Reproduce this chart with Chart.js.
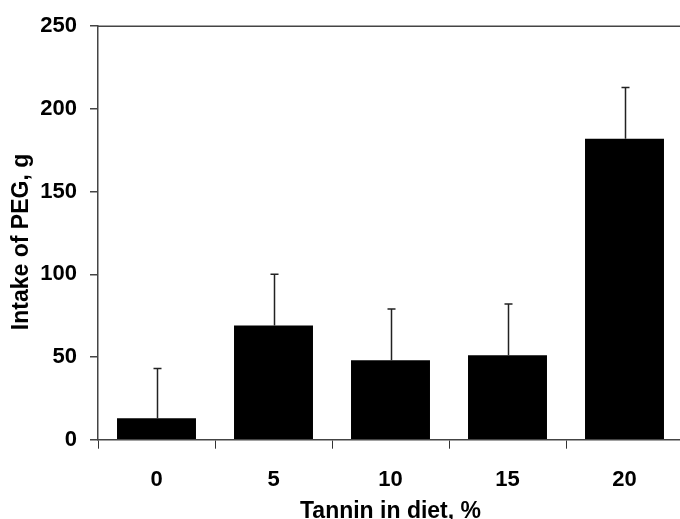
<!DOCTYPE html>
<html>
<head>
<meta charset="utf-8">
<script src="https://cdn.jsdelivr.net/npm/chart.js@4/dist/chart.umd.min.js"></script>
<style>
  html, body { margin: 0; padding: 0; background: #fff; overflow: hidden; }
  #wrap { position: relative; width: 700px; height: 519px; }
</style>
</head>
<body>
<div id="wrap"><canvas id="c"></canvas></div>
<script>
// Tannin level in the diet (%) and PEG intake (g), with one-sided SD
const tanninLevels = ['0', '5', '10', '15', '20'];
const pegIntake = [13, 69, 48, 51, 182];
const pegSD = [30, 31, 31, 31, 31];
const yTicks = [0, 50, 100, 150, 200, 250];

const FONT = '"Liberation Sans", Arial, sans-serif';
const AXIS_COLOR = '#444';

// Upward error bars with a short cap, drawn from the bar top
const errorBars = {
  id: 'errorBars',
  afterDatasetsDraw(chart) {
    const { ctx, scales: { y } } = chart;
    const meta = chart.getDatasetMeta(0);
    ctx.save();
    ctx.strokeStyle = '#222';
    ctx.lineWidth = 1.5;
    meta.data.forEach((bar, i) => {
      const x = Math.round(bar.x) + 0.5;
      const yTop = y.getPixelForValue(pegIntake[i] + pegSD[i]);
      const yBase = y.getPixelForValue(pegIntake[i]);
      ctx.beginPath();
      ctx.moveTo(x, yBase);
      ctx.lineTo(x, yTop);
      ctx.moveTo(x - 4, yTop);
      ctx.lineTo(x + 4, yTop);
      ctx.stroke();
    });
    ctx.restore();
  }
};

// Frame line along the top of the plot, plus both axis titles
const frameAndTitles = {
  id: 'frameAndTitles',
  afterDraw(chart) {
    const { ctx, chartArea: a } = chart;
    ctx.save();
    ctx.strokeStyle = AXIS_COLOR;
    ctx.lineWidth = 1.5;
    ctx.beginPath();
    ctx.moveTo(a.left, a.top);
    ctx.lineTo(a.right, a.top);
    ctx.lineTo(a.right, a.bottom);
    ctx.stroke();

    ctx.fillStyle = '#000';
    ctx.font = 'bold 23px ' + FONT;
    ctx.textAlign = 'center';
    ctx.textBaseline = 'alphabetic';
    ctx.fillText('Tannin in diet, %', (a.left + a.right) / 2, a.bottom + 78);

    ctx.translate(22, (a.top + a.bottom) / 2 + 9);
    ctx.rotate(-Math.PI / 2);
    ctx.textBaseline = 'middle';
    ctx.fillText('Intake of PEG, g', 0, 0);
    ctx.restore();
  }
};

new Chart(document.getElementById('c'), {
  type: 'bar',
  data: {
    labels: tanninLevels,
    datasets: [{
      data: pegIntake,
      backgroundColor: '#000',
      borderWidth: 0,
      barPercentage: 0.675,
      categoryPercentage: 1.0
    }]
  },
  options: {
    responsive: true,
    maintainAspectRatio: false,
    animation: false,
    events: [],
    layout: { padding: { top: 23, right: 17, left: 0, bottom: 0 } },
    plugins: { legend: { display: false }, tooltip: { enabled: false } },
    scales: {
      x: {
        afterFit: (s) => { s.height = 79.3; },
        grid: {
          display: true,
          drawOnChartArea: false,
          drawTicks: true,
          tickLength: 9,
          offset: true,
          color: '#333',
          lineWidth: 1
        },
        border: { display: true, color: AXIS_COLOR, width: 1.5 },
        ticks: {
          color: '#000',
          font: { family: FONT, size: 22, weight: 'bold' },
          padding: 18
        }
      },
      y: {
        min: 0,
        max: 250,
        afterFit: (s) => { s.width = 98; },
        afterBuildTicks: (s) => { s.ticks = yTicks.map(v => ({ value: v })); },
        grid: {
          display: true,
          drawOnChartArea: false,
          drawTicks: true,
          tickLength: 8,
          color: AXIS_COLOR,
          lineWidth: 1.5
        },
        border: { display: true, color: AXIS_COLOR, width: 1.5 },
        ticks: {
          color: '#000',
          font: { family: FONT, size: 22, weight: 'bold' },
          padding: 13
        }
      }
    }
  },
  plugins: [errorBars, frameAndTitles]
});
</script>
</body>
</html>
